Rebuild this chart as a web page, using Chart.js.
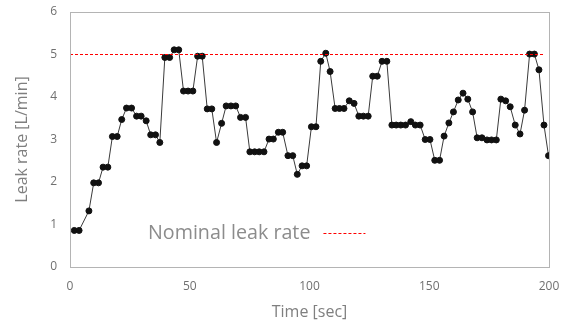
<!DOCTYPE html>
<html>
<head>
<meta charset="utf-8">
<script src="https://cdn.jsdelivr.net/npm/chart.js@4/dist/chart.umd.min.js"></script>
<style>
  html, body { margin: 0; padding: 0; background: #ffffff; }
  #wrap { width: 561px; height: 327px; }
</style>
</head>
<body>
<div id="wrap"><canvas id="c" width="561" height="327"></canvas></div>
<script>
// Sample times [sec]
const times = [
  1.8, 3.8, 7.9, 9.9, 11.9, 13.8, 15.8, 17.7, 19.7, 21.6,
  23.6, 25.7, 27.8, 29.7, 31.8, 33.7, 35.7, 37.5, 39.6, 41.6,
  43.5, 45.4, 47.4, 49.3, 51.3, 53.3, 55.2, 57.3, 59.2, 61.2,
  63.3, 65.2, 67.2, 69.2, 71.2, 73.3, 75.1, 77.1, 79.0, 81.0,
  83.1, 84.9, 87.0, 88.8, 91.0, 93.0, 94.9, 96.9, 98.8, 100.8,
  102.7, 104.7, 106.8, 108.6, 110.7, 112.5, 114.4, 116.6, 118.6, 120.6,
  122.5, 124.5, 126.4, 128.3, 130.3, 132.3, 134.4, 136.2, 138.1, 140.1,
  142.3, 144.2, 146.2, 148.3, 150.3, 152.3, 154.3, 156.2, 158.2, 160.1,
  162.1, 164.1, 166.1, 168.1, 170.0, 172.0, 174.1, 176.0, 178.0, 179.9,
  181.9, 183.8, 185.9, 187.9, 189.8, 191.9, 193.9, 195.8, 197.9, 199.8
];

// Measured leak rate [L/min]
const leakRate = [
  0.86, 0.86, 1.32, 1.98, 1.98, 2.35, 2.35, 3.07, 3.07, 3.47,
  3.74, 3.74, 3.55, 3.55, 3.44, 3.11, 3.11, 2.93, 4.93, 4.93,
  5.11, 5.11, 4.14, 4.14, 4.14, 4.96, 4.96, 3.72, 3.72, 2.93,
  3.38, 3.79, 3.79, 3.79, 3.52, 3.52, 2.71, 2.71, 2.71, 2.71,
  3.01, 3.01, 3.17, 3.17, 2.62, 2.62, 2.18, 2.38, 2.38, 3.30,
  3.30, 4.84, 5.03, 4.60, 3.73, 3.73, 3.73, 3.91, 3.85, 3.55,
  3.55, 3.55, 4.49, 4.49, 4.84, 4.84, 3.34, 3.34, 3.34, 3.34,
  3.42, 3.34, 3.34, 3.00, 3.00, 2.51, 2.51, 3.08, 3.39, 3.65,
  3.93, 4.09, 3.95, 3.65, 3.04, 3.04, 2.99, 2.99, 2.99, 3.95,
  3.91, 3.77, 3.34, 3.13, 3.69, 5.01, 5.01, 4.64, 3.34, 2.62
];

// Nominal leak rate reference line
const nominalTimes = [0, 198];
const nominalRate = [5, 5];
const nominalLabel = 'Nominal leak rate';

// Axis ticks
const xTicks = [0, 50, 100, 150, 200];
const yTicks = [0, 1, 2, 3, 4, 5, 6];

const FONT = "'Open Sans', 'Liberation Sans', sans-serif";
const GREY_TEXT = '#7f7f7f';
const FRAME = '#b4b4b4';

const measured = times.map((t, i) => ({ x: t, y: leakRate[i] }));
const nominal = nominalTimes.map((t, i) => ({ x: t, y: nominalRate[i] }));

// Frame around the plot area and the in-plot legend entry
const framePlugin = {
  id: 'frameAndLegend',
  afterDatasetsDraw(chart) {
    const { ctx, chartArea: a } = chart;
    ctx.save();
    ctx.strokeStyle = FRAME;
    ctx.lineWidth = 1;
    ctx.strokeRect(Math.round(a.left) + 0.5, Math.round(a.top) + 0.5,
                   Math.round(a.right - a.left), Math.round(a.bottom - a.top));

    const ds = chart.data.datasets[1];
    const tx = a.left + 78;
    const ty = a.top + 221;
    ctx.font = "19.7px " + FONT;
    ctx.fillStyle = '#8c8c8c';
    ctx.textBaseline = 'middle';
    ctx.textAlign = 'left';
    ctx.fillText(ds.label, tx, ty);
    const w = ctx.measureText(ds.label).width;
    ctx.strokeStyle = ds.borderColor;
    ctx.lineWidth = ds.borderWidth;
    ctx.setLineDash(ds.borderDash);
    ctx.beginPath();
    ctx.moveTo(tx + w + 13, Math.round(ty) + 0.5);
    ctx.lineTo(tx + w + 55, Math.round(ty) + 0.5);
    ctx.stroke();
    ctx.restore();
  }
};

new Chart(document.getElementById('c'), {
  type: 'line',
  data: {
    datasets: [
      {
        label: 'Leak rate',
        data: measured,
        borderColor: '#3a3a3a',
        borderWidth: 1,
        pointRadius: 3,
        pointBorderWidth: 1,
        pointBackgroundColor: '#111111',
        pointBorderColor: '#111111',
        tension: 0,
        order: 1
      },
      {
        label: nominalLabel,
        data: nominal,
        borderColor: '#ff0000',
        borderWidth: 1,
        borderDash: [3, 2],
        pointRadius: 0,
        tension: 0,
        order: 0
      }
    ]
  },
  options: {
    responsive: false,
    animation: false,
    devicePixelRatio: 1,
    layout: { padding: { top: 12, right: 12, bottom: 0, left: 0 } },
    plugins: {
      legend: { display: false },
      tooltip: { enabled: false }
    },
    scales: {
      x: {
        type: 'linear',
        min: 0,
        max: 200,
        afterBuildTicks(scale) { scale.ticks = xTicks.map(v => ({ value: v })); },
        afterFit(scale) {
          scale.height = 60;
          scale.paddingLeft = 0;
          scale.paddingRight = 0;
        },
        grid: { display: false, drawTicks: false },
        border: { display: false },
        ticks: {
          padding: 12,
          color: '#707070',
          font: { family: FONT, size: 12 },
          maxRotation: 0
        },
        title: {
          display: true,
          text: 'Time [sec]',
          color: GREY_TEXT,
          font: { family: FONT, size: 16 },
          padding: { top: 0, bottom: 5 }
        }
      },
      y: {
        min: 0,
        max: 6,
        afterBuildTicks(scale) { scale.ticks = yTicks.map(v => ({ value: v })); },
        afterFit(scale) {
          scale.width = 70;
          scale.paddingTop = 0;
          scale.paddingBottom = 0;
        },
        grid: { display: false, drawTicks: false },
        border: { display: false },
        ticks: {
          padding: 13,
          color: '#707070',
          font: { family: FONT, size: 12 }
        },
        title: {
          display: true,
          text: 'Leak rate [L/min]',
          color: GREY_TEXT,
          font: { family: FONT, size: 16 },
          padding: { top: 13, bottom: 0 }
        }
      }
    }
  },
  plugins: [framePlugin]
});
</script>
</body>
</html>
